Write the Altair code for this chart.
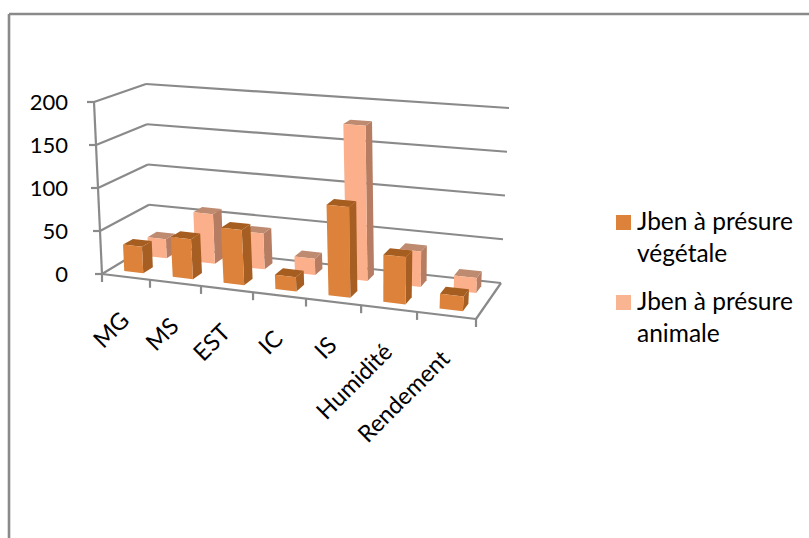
import altair as alt
import numpy as np
import pandas as pd

# Chart content
categories = ["MG", "MS", "EST", "IC", "IS", "Humidité", "Rendement"]
vegetale = [31, 46, 63, 16, 101, 52, 16]
animale = [23, 59, 42, 19, 178, 40, 17]
series_labels = [["Jben à présure", "végétale"], ["Jben à présure", "animale"]]
value_ticks = [0, 50, 100, 150, 200]

# Colours: front, side, top of each series
VEG = ("#DC823A", "#A65E22", "#A55D20")
ANI = ("#FBAF8A", "#B67D62", "#BE8A70")
LINE = "#8A8A8A"
FONT = "Lato"

# Perspective of the 3D box: floor plane and the plane at the top of the value axis
FLOOR = [(102, 274), (476, 319), (501, 283), (150, 245)]
TOP = [(94, 102), (488, 133), (509, 108), (146, 84)]
N = len(categories)
VMAX = 200
# Small correction of the category spacing along the floor
SPACING_SHIFT = [0, 0, 0.027, 0.038, 0.032, 0.03, 0.007, 0]


def homography(quad):
    src = [(0, 0), (N, 0), (N, 1), (0, 1)]
    a, b = [], []
    for (u, w), (x, y) in zip(src, quad):
        a.append([u, w, 1, 0, 0, 0, -u * x, -w * x])
        b.append(x)
        a.append([0, 0, 0, u, w, 1, -u * y, -w * y])
        b.append(y)
    return np.append(np.linalg.solve(np.array(a, float), np.array(b, float)), 1).reshape(3, 3)


H_FLOOR, H_TOP = homography(FLOOR), homography(TOP)


def project(u, v, w):
    """Category position u, value v and depth w to drawing coordinates."""
    u = u + np.interp(u, range(N + 1), SPACING_SHIFT)
    p = np.array([u, w, 1.0])
    f, t = H_FLOOR @ p, H_TOP @ p
    f, t = f[:2] / f[2], t[:2] / t[2]
    return tuple(f + (t - f) * v / VMAX)


polys = []


def add_poly(points, fill):
    polys.append((len(polys), points, fill))


def add_bar(i, value, w0, w1, colours):
    front, side, top = colours
    u0, u1 = i + 0.31, i + 0.71
    add_poly([project(u1, 0, w0), project(u1, 0, w1), project(u1, value, w1), project(u1, value, w0)], side)
    add_poly([project(u0, value, w0), project(u1, value, w0), project(u1, value, w1), project(u0, value, w1)], top)
    add_poly([project(u0, 0, w0), project(u1, 0, w0), project(u1, value, w0), project(u0, value, w0)], front)


for i, v in enumerate(animale):
    add_bar(i, v, 0.65, 0.85, ANI)
for i, v in enumerate(vegetale):
    add_bar(i, v, 0.15, 0.35, VEG)

face_rows = []
for pid, pts, fill in polys:
    for k, (x, y) in enumerate(pts + pts[:1]):
        face_rows.append({"face": pid, "k": k, "x": x, "y": y, "fill": fill})
faces = pd.DataFrame(face_rows)

# Walls, floor and tick marks
line_rows = []


def add_line(a, b):
    line_rows.append({"x": a[0], "y": a[1], "x2": b[0], "y2": b[1]})


for v in value_ticks:
    add_line(project(0, v, 0), project(0, v, 1))
    add_line(project(0, v, 1), project(N, v, 1))
    a = project(0, v, 0)
    add_line((a[0] - 7, a[1]), a)
add_line(project(0, 0, 0), project(0, VMAX, 0))
add_line(project(0, 0, 0), project(N, 0, 0))
add_line(project(N, 0, 0), project(N, 0, 1))
for i in range(N + 1):
    a = project(i, 0, 0)
    add_line(a, (a[0], a[1] + 8))
lines = pd.DataFrame(line_rows)

# Chart frame
frame = pd.DataFrame([
    {"x": 9, "y": 14, "x2": 809, "y2": 14},
    {"x": 9, "y": 14, "x2": 9, "y2": 538},
])

value_labels = pd.DataFrame([
    {"x": 68, "y": project(0, v, 0)[1] + 1, "t": str(v)} for v in value_ticks
])

cat_labels = pd.DataFrame([
    {"x": project(i + 0.5, 0, 0)[0], "y": project(i + 0.5, 0, 0)[1] + 40, "t": c}
    for i, c in enumerate(categories)
])

swatch_y = [222.5, 302.5]
swatches = pd.DataFrame([
    {"x": 623.5, "y": swatch_y[0], "fill": VEG[0]},
    {"x": 623.5, "y": swatch_y[1], "fill": "#F9B591"},
])
legend_rows = []
for y0, pair in zip(swatch_y, series_labels):
    for j, t in enumerate(pair):
        legend_rows.append({"x": 637, "y": y0 + j * 32.5, "t": t})
legend_text = pd.DataFrame(legend_rows)

X = alt.X("x:Q", scale=alt.Scale(domain=[0, 809], nice=False, zero=False), axis=None)
Y = alt.Y("y:Q", scale=alt.Scale(domain=[538, 0], nice=False, zero=False), axis=None)

frame_layer = alt.Chart(frame).mark_rule(color=LINE, strokeWidth=2.6).encode(X, Y, x2="x2:Q", y2="y2:Q")
line_layer = alt.Chart(lines).mark_rule(color=LINE, strokeWidth=2.2).encode(X, Y, x2="x2:Q", y2="y2:Q")
face_layer = (
    alt.Chart(faces)
    .mark_line(strokeWidth=0)
    .encode(
        X,
        Y,
        detail="face:N",
        order="k:Q",
        fill=alt.Fill("fill:N", scale=None, legend=None),
    )
)
value_layer = (
    alt.Chart(value_labels)
    .mark_text(font=FONT, fontSize=22, align="right", baseline="middle", color="#000000")
    .encode(X, Y, text="t:N")
)
cat_layer = (
    alt.Chart(cat_labels)
    .mark_text(font=FONT, fontSize=23.5, align="right", baseline="middle", angle=315, color="#000000")
    .encode(X, Y, text="t:N")
)
swatch_layer = (
    alt.Chart(swatches)
    .mark_square(size=225, opacity=1)
    .encode(X, Y, fill=alt.Fill("fill:N", scale=None, legend=None))
)
legend_layer = (
    alt.Chart(legend_text)
    .mark_text(font=FONT, fontSize=24.5, align="left", baseline="middle", color="#000000")
    .encode(X, Y, text="t:N")
)

chart = (
    alt.layer(frame_layer, line_layer, face_layer, value_layer, cat_layer, swatch_layer, legend_layer)
    .properties(width=809, height=538, padding=0, background="#FFFFFF",
                autosize=alt.AutoSizeParams(type="none"))
    .configure_view(stroke=None)
)

chart.save("out.html", embed_options={"renderer": "svg", "actions": False})
